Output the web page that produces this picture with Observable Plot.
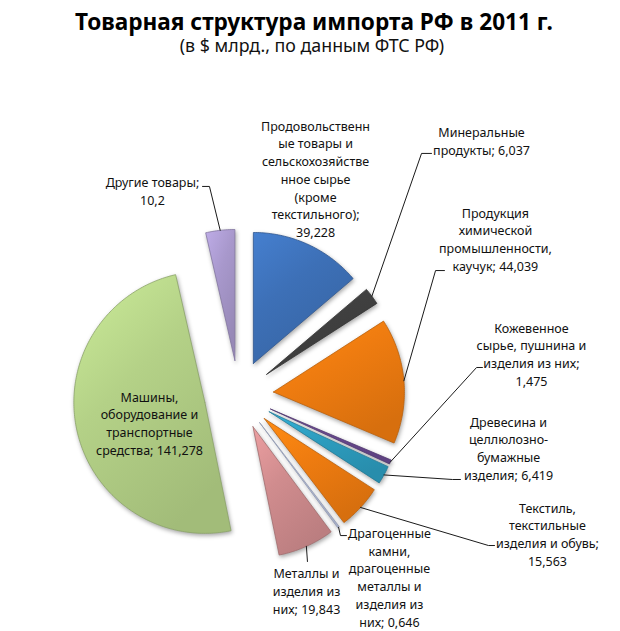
<!DOCTYPE html>
<html><head><meta charset="utf-8">
<script src="https://cdn.jsdelivr.net/npm/d3@7"></script>
<script src="https://cdn.jsdelivr.net/npm/@observablehq/plot@0.6"></script>
<style>
body{margin:0;background:#fff;}
#header{position:relative;width:620px;height:62px;}
#title{position:absolute;left:4px;width:620px;top:11px;text-align:center;font:bold 22.6px "Noto Sans";line-height:1;color:#000;}
#subtitle{position:absolute;left:2px;width:620px;top:37px;text-align:center;font:17.8px "Noto Sans";line-height:1;color:#111;}
#chart svg path.slice{filter:drop-shadow(1px 2px 2px rgba(0,0,0,0.35));}
</style></head><body>
<div id="header"><div id="title"></div><div id="subtitle"></div></div>
<div id="chart"></div>
<script>
const titleText = "Товарная структура импорта РФ в 2011 г.";
const subtitleText = "(в $ млрд., по данным ФТС РФ)";

const categories = [
  "Продовольственные товары и сельскохозяйственное сырье (кроме текстильного)",
  "Минеральные продукты",
  "Продукция химической промышленности, каучук",
  "Кожевенное сырье, пушнина и изделия из них",
  "Древесина и целлюлозно-бумажные изделия",
  "Текстиль, текстильные изделия и обувь",
  "Драгоценные камни, драгоценные металлы и изделия из них",
  "Металлы и изделия из них",
  "Машины, оборудование и транспортные средства",
  "Другие товары"
];
const values = [39.228, 6.037, 44.039, 1.475, 6.419, 15.563, 0.646, 19.843, 141.278, 10.2];
const labelTexts = [
  "Продовольственн\nые товары и\nсельскохозяйстве\nнное сырье\n(кроме\nтекстильного);\n39,228",
  "Минеральные\nпродукты; 6,037",
  "Продукция\nхимической\nпромышленности,\nкаучук; 44,039",
  "Кожевенное\nсырье, пушнина и\nизделия из них;\n1,475",
  "Древесина и\nцеллюлозно-\nбумажные\nизделия; 6,419",
  "Текстиль,\nтекстильные\nизделия и обувь;\n15,563",
  "Драгоценные\nкамни,\nдрагоценные\nметаллы и\nизделия из\nних; 0,646",
  "Металлы и\nизделия из\nних; 19,843",
  "Машины,\nоборудование и\nтранспортные\nсредства; 141,278",
  "Другие товары;\n10,2"
];
const colors = ["#3d70b7", "#404040", "#ef7c10", "#6a4a91", "#2d9dbf", "#ef7c10", "#b9c3e0", "#d08c8e", "#b4d187", "#a898cc"];

// layout (in pie-radius units, relative to pie centre, y up)
const labelPos = [
  [0.586, 1.655], [1.853, 1.943], [1.959, 1.195], [2.234, 0.317], [2.059, -0.401],
  [2.356, -1.057], [1.150, -1.386], [0.517, -1.492], [-0.682, -0.210], [-0.659, 1.561]
];
const leaderElbows = [
  null,
  [[1.395, 1.844], [1.471, 1.844]],
  [[1.502, 0.950], [1.570, 0.950]],
  [[1.815, 0.210], [1.860, 0.210]],
  [[1.631, -0.645], [1.692, -0.645]],
  [[1.906, -1.149], [1.952, -1.149]],
  [[0.776, -1.073], [0.822, -1.073]],
  [[0.524, -1.271]],
  null,
  [[-0.224, 1.592], [-0.277, 1.592]]
];

const W = 620, PAGE_H = 631, HEADER = 62, SVG_H = PAGE_H - HEADER;
const CX = 238.3, CY = 394.5, R = 131; // pie centre & radius in page px
const EXPLODE = 0.265;

document.getElementById("title").textContent = titleText;
document.getElementById("subtitle").textContent = subtitleText;

const arcs = d3.pie().sort(null).value(d => d)(values);
const slices = arcs.map((p, i) => {
  const m = (p.startAngle + p.endAngle) / 2;
  const ox = EXPLODE * Math.sin(m), oy = EXPLODE * Math.cos(m);
  const n = Math.max(2, Math.ceil((p.endAngle - p.startAngle) / 0.015));
  const pts = [{x: ox, y: oy}];
  for (let k = 0; k <= n; k++) {
    const a = p.startAngle + (p.endAngle - p.startAngle) * k / n;
    pts.push({x: ox + Math.sin(a), y: oy + Math.cos(a)});
  }
  pts.push({x: ox, y: oy});
  return {i, pts, tip: [ox + Math.sin(m), oy + Math.cos(m)]};
});

const leaders = [];
slices.forEach((s, i) => {
  if (!leaderElbows[i]) return;
  leaders.push({i, x: s.tip[0], y: s.tip[1]});
  leaderElbows[i].forEach(([x, y]) => leaders.push({i, x, y}));
});

const labels = labelTexts.map((t, i) => ({text: t, x: labelPos[i][0], y: labelPos[i][1], cat: categories[i]}));

const xDomain = [-CX / R, (W - CX) / R];
const yDomain = [(CY - PAGE_H) / R, (CY - HEADER) / R];

const plot = Plot.plot({
  width: W, height: SVG_H,
  margin: 0,
  x: {domain: xDomain, range: [0, W], axis: null},
  y: {domain: yDomain, range: [SVG_H, 0], axis: null},
  style: {background: "#fff", overflow: "visible"},
  marks: [
    ...slices.map(s => Plot.line(s.pts, {
      x: "x", y: "y",
      fill: `url(#grad${s.i})`,
      stroke: d3.color(colors[s.i]).darker(0.7).formatHex(),
      strokeWidth: 0.8,
      strokeLinejoin: "round",
      className: "slice"
    })),
    Plot.line(leaders, {x: "x", y: "y", z: "i", stroke: "#1a1a1a", strokeWidth: 1}),
    Plot.text(labels, {
      x: "x", y: "y", text: "text",
      fontSize: 12.5, lineHeight: 1.42, fontFamily: "Noto Sans",
      fill: "#111", lineAnchor: "middle", textAnchor: "middle"
    })
  ]
});

// gradients for the bevelled look
const svg = d3.select(plot);
const defs = svg.insert("defs", ":first-child");
colors.forEach((c, i) => {
  const g = defs.append("linearGradient").attr("id", `grad${i}`)
    .attr("x1", 0).attr("y1", 0).attr("x2", 0.6).attr("y2", 1);
  g.append("stop").attr("offset", "0%").attr("stop-color", d3.color(c).brighter(0.35).formatHex());
  g.append("stop").attr("offset", "45%").attr("stop-color", c);
  g.append("stop").attr("offset", "100%").attr("stop-color", d3.color(c).darker(0.3).formatHex());
});
svg.selectAll("g.slice path").classed("slice", true);
document.getElementById("chart").appendChild(plot);
</script>
</body></html>
